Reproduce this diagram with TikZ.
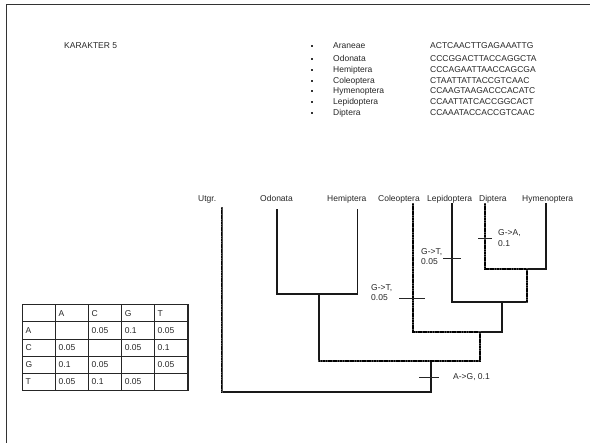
\documentclass[tikz,border=0pt]{standalone}
\usepackage{fontspec}
\setmainfont{Liberation Sans}
\begin{document}
\begin{tikzpicture}[x=1pt,y=-1pt,
  txt/.style={font=\fontsize{8.5}{10}\selectfont, inner sep=0pt, anchor=west, text=black!85, text height=6pt, text depth=0pt},
  bul/.style={fill=black!80, inner sep=0pt, minimum size=1.6pt, draw=none},
  branch/.style={line width=1.5pt, black!90, line cap=rect},
  dbranch/.style={preaction={draw, black!70, line width=1.6pt, line cap=rect}, line width=1.3pt, black, dash pattern=on 1.2pt off 0.5pt},
  tick/.style={line width=0.8pt, black!85},
  tblout/.style={line width=1.5pt, black!85},
  tblin/.style={line width=0.7pt, black!85}]
\useasboundingbox (0,0) rectangle (590,443);
% frame
\coordinate (fbl) at (6.7,443);
\coordinate (ftl) at (6.7,4.3);
\coordinate (ftr) at (590,4.3);
\draw[line width=1.3pt, black!80] (fbl) -- (ftl) -- (ftr);

\node[txt] (kar) at (64,46) {KARAKTER 5};

% sequence list
\foreach \n/\name/\seq/\yy in {a/Araneae/ACTCAACTTGAGAAATTG/46, o/Odonata/CCCGGACTTACCAGGCTA/59, h/Hemiptera/CCCAGAATTAACCAGCGA/70, c/Coleoptera/CTAATTATTACCGTCAAC/81, y/Hymenoptera/CCAAGTAAGACCCACATC/91, l/Lepidoptera/CCAATTATCACCGGCACT/102, d/Diptera/CCAAATACCACCGTCAAC/113}{
  \node[bul] (b\n) at (312,\yy) {};
  \node[txt] (n\n) at (333,\yy) {\name};
  \node[txt] (s\n) at (430,\yy) {\seq};
}

% tree labels
\node[txt] (lu) at (198,199) {Utgr.};
\node[txt] (lo) at (260,199) {Odonata};
\node[txt] (lh) at (327,199) {Hemiptera};
\node[txt] (lc) at (378,199) {Coleoptera};
\node[txt] (ll) at (427,199) {Lepidoptera};
\node[txt] (ld) at (479,199) {Diptera};
\node[txt] (ly) at (522,199) {Hymenoptera};

% tree coordinates
\coordinate (ut) at (221.7,208);
\coordinate (ub) at (221.7,392);
\coordinate (ot) at (277,210);
\coordinate (ob) at (277,294);
\coordinate (ht) at (357.7,210);
\coordinate (hb) at (357.7,294);
\coordinate (ohs) at (319,294);
\coordinate (ohb) at (319,361);
\coordinate (ct) at (413,204);
\coordinate (cb) at (413,332);
\coordinate (lt) at (452,204);
\coordinate (lb) at (452,302);
\coordinate (dt) at (485,204);
\coordinate (db) at (485,269);
\coordinate (yt) at (546,204);
\coordinate (yb) at (546,269);
\coordinate (dys) at (527,269);
\coordinate (dyb) at (527,302);
\coordinate (lds) at (502,302);
\coordinate (ldb) at (502,332);
\coordinate (cls) at (480,332);
\coordinate (clb) at (480,361);
\coordinate (rs) at (431,361);
\coordinate (rb) at (431,392);

% solid branches
\draw[branch] (ot) -- (ob) -- (hb) -- (ht);
\draw[branch] (ohs) -- (ohb);
\draw[branch] (lt) -- (lb) -- (dyb);
\draw[branch] (yt) -- (yb) -- (dys);
\draw[branch] (lds) -- (ldb) -- (cls);
\draw[branch] (rs) -- (rb) -- (ub);
% dotted-looking branches
\draw[dbranch] (ut) -- (ub);
\draw[dbranch] (ct) -- (cb) -- (cls);
\draw[dbranch] (cls) -- (clb) -- (ohb);
\draw[dbranch] (dt) -- (db) -- (dys);
\draw[dbranch] (dys) -- (dyb);

% change ticks and labels
\coordinate (t1a) at (478,238); \coordinate (t1b) at (492,238);
\draw[tick] (t1a) -- (t1b);
\node[txt] (g1a) at (498,233) {G->A,};
\node[txt] (g1b) at (498,244) {0.1};

\coordinate (t2a) at (443,258); \coordinate (t2b) at (461,258);
\draw[tick] (t2a) -- (t2b);
\node[txt] (g2a) at (421,252) {G->T,};
\node[txt] (g2b) at (421,262) {0.05};

\coordinate (t3a) at (399,298); \coordinate (t3b) at (425,298);
\draw[tick] (t3a) -- (t3b);
\node[txt] (g3a) at (371,288) {G->T,};
\node[txt] (g3b) at (371,298) {0.05};

\coordinate (t4a) at (419,377); \coordinate (t4b) at (439,377);
\draw[tick] (t4a) -- (t4b);
\node[txt] (g4) at (453,377) {A->G, 0.1};

% table
\coordinate (tbtl) at (22.3,304.5);
\coordinate (tbbr) at (188,390.6);
\foreach \xx in {55.5,88.5,121.7,154.5}{
  \draw[tblin] (\xx,304.5) -- (\xx,390.6);
}
\foreach \yy in {321.8,339,356.2,373.4}{
  \draw[tblin] (22.3,\yy) -- (188,\yy);
}
\draw[tblout] (tbtl) rectangle (tbbr);
% header row
\node[txt] (hA) at (58.5,313.2) {A};
\node[txt] (hC) at (91.5,313.2) {C};
\node[txt] (hG) at (124.7,313.2) {G};
\node[txt] (hT) at (157.5,313.2) {T};
% row A
\node[txt] (rA) at (25.3,330.4) {A};
\node[txt] (rAC) at (91.5,330.4) {0.05};
\node[txt] (rAG) at (124.7,330.4) {0.1};
\node[txt] (rAT) at (157.5,330.4) {0.05};
% row C
\node[txt] (rC) at (25.3,347.6) {C};
\node[txt] (rCA) at (58.5,347.6) {0.05};
\node[txt] (rCG) at (124.7,347.6) {0.05};
\node[txt] (rCT) at (157.5,347.6) {0.1};
% row G
\node[txt] (rG) at (25.3,364.8) {G};
\node[txt] (rGA) at (58.5,364.8) {0.1};
\node[txt] (rGC) at (91.5,364.8) {0.05};
\node[txt] (rGT) at (157.5,364.8) {0.05};
% row T
\node[txt] (rT) at (25.3,382) {T};
\node[txt] (rTA) at (58.5,382) {0.05};
\node[txt] (rTC) at (91.5,382) {0.1};
\node[txt] (rTG) at (124.7,382) {0.05};
\end{tikzpicture}
\end{document}
